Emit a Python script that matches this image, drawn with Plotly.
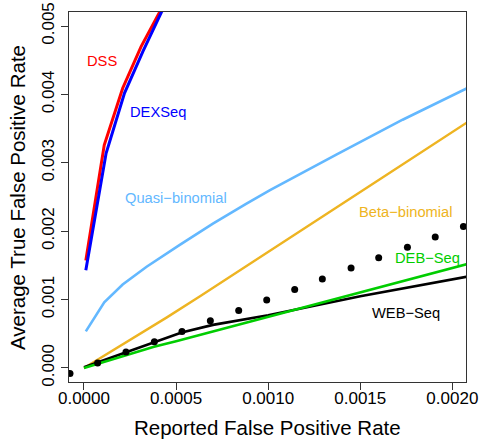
import plotly.graph_objects as go

# ---- data ----
dss_x = [0.00001, 0.00011, 0.00021, 0.00031, 0.00041, 0.00051]
dss_y = [0.00157, 0.00326, 0.00409, 0.00470, 0.00520, 0.00570]

dexseq_x = [0.00001, 0.00012, 0.00022, 0.00032, 0.00042, 0.00052]
dexseq_y = [0.00143, 0.00314, 0.00402, 0.00463, 0.00520, 0.00568]

quasi_x = [0.00001, 0.00011, 0.00021, 0.00034, 0.00052, 0.00070, 0.00088, 0.00101, 0.00137, 0.00173, 0.00208]
quasi_y = [0.000535, 0.00096, 0.00122, 0.00148, 0.00180, 0.00211, 0.00240, 0.00260, 0.00312, 0.00363, 0.00409]

beta_x = [0.0, 0.00025, 0.00045, 0.00063, 0.00101, 0.00155, 0.00208]
beta_y = [0.0, 0.00041, 0.00074, 0.00105, 0.00172, 0.00266, 0.00359]

deb_x = [0.0, 0.00038, 0.00050, 0.00100, 0.00150, 0.00208]
deb_y = [0.0, 0.00031, 0.00039, 0.00075, 0.00111, 0.00152]

web_x = [0.0, 0.00007, 0.00020, 0.00038, 0.00053, 0.00070, 0.00100, 0.00150, 0.00208]
web_y = [0.00001, 0.000077, 0.00021, 0.000385, 0.00052, 0.00063, 0.00077, 0.00105, 0.001335]

ref_x = [-0.000076, 0.000074, 0.000228, 0.000382, 0.000532, 0.000686, 0.00084, 0.000992,
         0.001144, 0.001294, 0.00145, 0.0016, 0.001756, 0.001907, 0.00206]
ref_y = [-0.000079, 0.000073, 0.000234, 0.000384, 0.000535, 0.000691, 0.000841, 0.000993,
         0.001148, 0.0013, 0.001461, 0.001611, 0.001765, 0.001914, 0.002069]

x_ticks = [0.0, 0.0005, 0.0010, 0.0015, 0.0020]
x_ticklabels = ["0.0000", "0.0005", "0.0010", "0.0015", "0.0020"]
y_ticks = [0.0, 0.001, 0.002, 0.003, 0.004, 0.005]
y_ticklabels = ["0.000", "0.001", "0.002", "0.003", "0.004", "0.005"]

labels = ["DSS", "DEXSeq", "Quasi\u2212binomial", "Beta\u2212binomial", "DEB\u2212Seq", "WEB\u2212Seq"]
label_x = [0.000099, 0.00040, 0.000498, 0.00175, 0.001865, 0.001747]
label_y = [0.00449, 0.00375, 0.002492, 0.002288, 0.001607, 0.000804]
colors = ["#FF0000", "#0000FF", "#63B8FF", "#EEB422", "#00CD00", "#000000"]

FONT = "Liberation Sans, Arial, sans-serif"
X_RANGE = [-0.0000814, 0.002074]

fig = go.Figure()
series = [
    (quasi_x, quasi_y, colors[2], 2.6),
    (beta_x, beta_y, colors[3], 2.4),
    (web_x, web_y, colors[5], 2.6),
    (deb_x, deb_y, colors[4], 2.6),
    (dss_x, dss_y, colors[0], 3),
    (dexseq_x, dexseq_y, colors[1], 3),
]
for xs, ys, c, w in series:
    fig.add_trace(go.Scatter(x=xs, y=ys, mode="lines", line=dict(color=c, width=w),
                             showlegend=False, hoverinfo="skip"))

fig.add_trace(go.Scatter(x=ref_x, y=ref_y, mode="markers", xaxis="x2",
                         marker=dict(color="black", size=7), showlegend=False,
                         hoverinfo="skip"))

for t, x, y, c in zip(labels, label_x, label_y, colors):
    fig.add_annotation(x=x, y=y, text=t, showarrow=False, xanchor="center", yanchor="middle",
                       font=dict(family=FONT, size=14.7, color=c))

fig.add_annotation(xref="paper", yref="paper", x=0.5, y=-0.124, text="Reported False Positive Rate",
                   showarrow=False, xanchor="center", yanchor="middle",
                   font=dict(family=FONT, size=20.5, color="black"))
fig.add_annotation(xref="paper", yref="paper", x=-0.131, y=0.5, text="Average True False Positive Rate",
                   showarrow=False, xanchor="center", yanchor="middle", textangle=-90,
                   font=dict(family=FONT, size=20.5, color="black"))

fig.update_layout(
    xaxis=dict(range=X_RANGE, tickvals=x_ticks, showticklabels=False,
               ticks="outside", ticklen=7, tickwidth=1, tickcolor="#333",
               showline=True, linecolor="#333", linewidth=1, mirror=True,
               showgrid=False, zeroline=False, automargin=False),
    xaxis2=dict(range=X_RANGE, overlaying="x", anchor="y", side="bottom",
                tickvals=x_ticks, ticktext=x_ticklabels,
                ticks="outside", ticklen=1, tickcolor="rgba(0,0,0,0)",
                showline=False, showgrid=False, zeroline=False, automargin=False,
                tickfont=dict(family=FONT, size=17, color="black")),
    yaxis=dict(range=[-0.000205, 0.005205], tickvals=y_ticks, ticktext=y_ticklabels,
               ticks="outside", ticklen=7, tickwidth=1, tickcolor="#333", tickangle=-90,
               showline=True, linecolor="#333", linewidth=1, mirror=True,
               showgrid=False, zeroline=False, automargin=False,
               tickfont=dict(family=FONT, size=17, color="black")),
    width=479, height=444, margin=dict(l=69, r=13, t=12, b=62),
    plot_bgcolor="white", paper_bgcolor="white", font=dict(family=FONT),
)

fig.write_html("out.html", config={"displayModeBar": False},
               post_script="document.body.style.margin='0';document.body.style.padding='0';"
                           "document.body.style.overflow='hidden';")
